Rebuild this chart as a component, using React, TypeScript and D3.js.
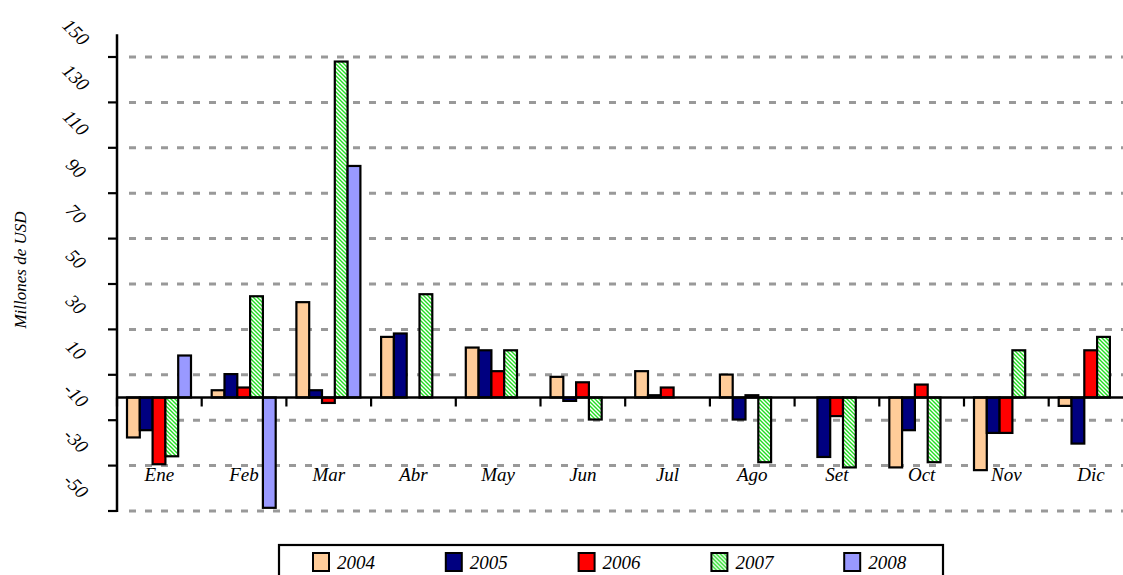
import React, { useEffect, useRef } from 'react';
import * as d3 from 'd3';

// Monthly values in millions of USD, one array per year
const months = ['Ene', 'Feb', 'Mar', 'Abr', 'May', 'Jun', 'Jul', 'Ago', 'Set', 'Oct', 'Nov', 'Dic'];
const years = ['2004', '2005', '2006', '2007', '2008'];
const v2004 = [-17.6, 3.2, 42, 26.7, 22, 9.1, 11.6, 10.1, null, -30.8, -32, -3.7];
const v2005 = [-14.4, 10.3, 3.2, 28.2, 20.8, -1.5, 1, -9.7, -26.2, -14.4, -15.6, -20.3];
const v2006 = [-29.4, 4.4, -2.4, null, 11.6, 6.7, 4.4, 1, -8.2, 5.7, -15.6, 20.8];
const v2007 = [-25.9, 44.6, 148, 45.5, 20.8, -9.7, null, -28.5, -30.8, -28.5, 20.8, 26.7];
const v2008 = [18.5, -48.6, 102, null, null, null, null, null, null, null, null, null];
const yTicks = [150, 130, 110, 90, 70, 50, 30, 10, -10, -30, -50];

const fills = ['#FFCC99', '#000080', '#FF0000', 'url(#hatch)', '#9999FF'];
const FONT = "'Liberation Serif', 'DejaVu Serif', serif";

export default function App() {
  const ref = useRef<SVGSVGElement | null>(null);

  useEffect(() => {
    const width = 1123;
    const height = 575;
    const series = [v2004, v2005, v2006, v2007, v2008];

    const svg = d3.select(ref.current);
    svg.selectAll('*').remove();

    const defs = svg.append('defs');
    const pat = defs.append('pattern')
      .attr('id', 'hatch')
      .attr('patternUnits', 'userSpaceOnUse')
      .attr('width', 4)
      .attr('height', 4);
    pat.append('rect').attr('width', 4).attr('height', 4).attr('fill', '#ffffff');
    pat.append('path')
      .attr('d', 'M-1,3 l2,2 M0,0 l4,4 M3,-1 l2,2')
      .attr('stroke', '#22dd22')
      .attr('stroke-width', 1.4);

    const axisX = 117;
    const y = d3.scaleLinear().domain([-50, 150]).range([511, 57]);
    const x = d3.scaleBand<string>().domain(months).range([axisX, axisX + 12 * 84.7]).padding(0);
    const xs = d3.scaleBand<string>().domain(years).range([10, 74]).padding(0);

    // gridlines
    svg.append('g')
      .selectAll('line')
      .data(yTicks)
      .join('line')
      .attr('x1', axisX + 12)
      .attr('x2', width)
      .attr('y1', d => y(d))
      .attr('y2', d => y(d))
      .attr('stroke', '#999999')
      .attr('stroke-width', 3)
      .attr('stroke-dasharray', '7 9');

    // bars
    series.forEach((vals, si) => {
      svg.append('g')
        .selectAll('rect')
        .data(vals.map((v, i) => ({ m: months[i], v })).filter(d => d.v !== null))
        .join('rect')
        .attr('x', d => (x(d.m) as number) + (xs(years[si]) as number))
        .attr('width', xs.bandwidth())
        .attr('y', d => y(Math.max(0, d.v as number)))
        .attr('height', d => Math.abs(y(d.v as number) - y(0)))
        .attr('fill', fills[si])
        .attr('stroke', '#000')
        .attr('stroke-width', 2.2);
    });

    // zero line + category ticks
    svg.append('line')
      .attr('x1', axisX).attr('x2', width)
      .attr('y1', y(0)).attr('y2', y(0))
      .attr('stroke', '#000').attr('stroke-width', 2.5);
    svg.append('g')
      .selectAll('line')
      .data(months)
      .join('line')
      .attr('x1', d => x(d) as number)
      .attr('x2', d => x(d) as number)
      .attr('y1', y(0))
      .attr('y2', y(0) + 9)
      .attr('stroke', '#000')
      .attr('stroke-width', 2.2);

    // y axis
    svg.append('line')
      .attr('x1', axisX).attr('x2', axisX)
      .attr('y1', y(160)).attr('y2', y(-50) + 1)
      .attr('stroke', '#000').attr('stroke-width', 2.5);
    svg.append('g')
      .selectAll('line')
      .data(yTicks)
      .join('line')
      .attr('x1', axisX - 9).attr('x2', axisX)
      .attr('y1', d => y(d)).attr('y2', d => y(d))
      .attr('stroke', '#000').attr('stroke-width', 2.2);

    svg.append('g')
      .selectAll('text')
      .data(yTicks)
      .join('text')
      .attr('x', 76)
      .attr('y', d => y(d) - 25)
      .attr('transform', d => `rotate(45, 76, ${y(d) - 25})`)
      .attr('text-anchor', 'middle')
      .attr('dominant-baseline', 'central')
      .attr('font-family', FONT)
      .attr('font-style', 'italic')
      .attr('font-size', 19)
      .text(d => String(d));

    // month labels
    svg.append('g')
      .selectAll('text')
      .data(months)
      .join('text')
      .attr('x', d => (x(d) as number) + x.bandwidth() / 2)
      .attr('y', 481)
      .attr('text-anchor', 'middle')
      .attr('font-family', FONT)
      .attr('font-style', 'italic')
      .attr('font-size', 19)
      .text(d => d);

    // y title
    svg.append('text')
      .attr('transform', 'translate(26,270) rotate(-90)')
      .attr('text-anchor', 'middle')
      .attr('font-family', FONT)
      .attr('font-style', 'italic')
      .attr('font-size', 17)
      .text('Millones de USD');

    // legend
    const lg = svg.append('g');
    lg.append('rect')
      .attr('x', 279).attr('y', 545)
      .attr('width', 664).attr('height', 50)
      .attr('fill', '#fff')
      .attr('stroke', '#000').attr('stroke-width', 2.2);
    const items = lg.selectAll('g')
      .data(years)
      .join('g')
      .attr('transform', (_, i) => `translate(${313 + i * 132.8},553)`);
    items.append('rect')
      .attr('width', 16).attr('height', 18)
      .attr('fill', (_, i) => fills[i])
      .attr('stroke', '#000').attr('stroke-width', 2);
    items.append('text')
      .attr('x', 24).attr('y', 16)
      .attr('font-family', FONT)
      .attr('font-style', 'italic')
      .attr('font-size', 19)
      .text(d => d);

    svg.attr('width', width).attr('height', height);
  }, []);

  return (
    <div style={{ position: 'fixed', left: 0, top: 0, width: 1123, height: 575, background: '#fff' }}>
      <svg ref={ref} width={1123} height={575} style={{ display: 'block' }} />
    </div>
  );
}
